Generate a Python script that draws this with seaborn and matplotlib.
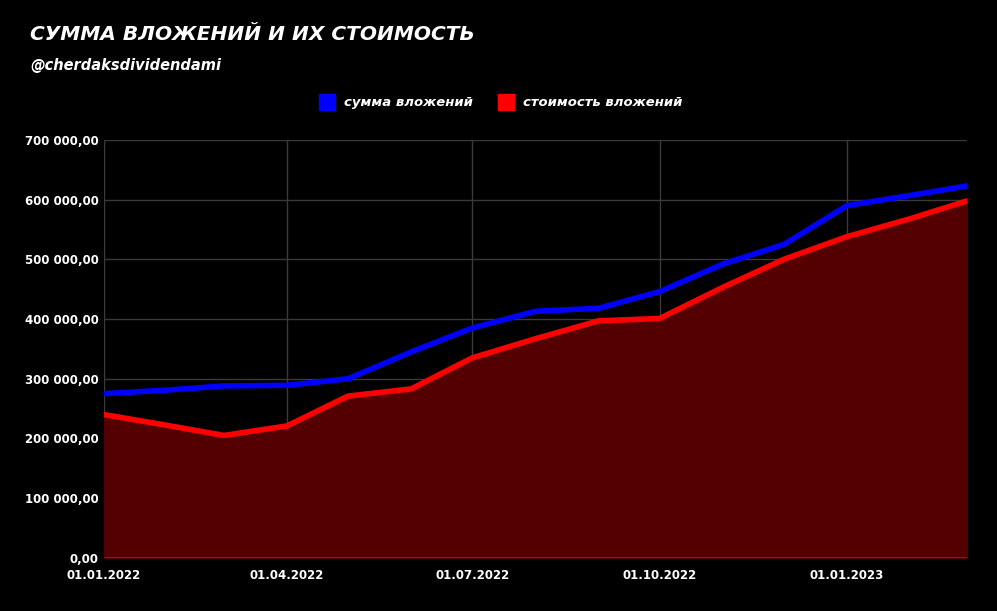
import pandas as pd
import matplotlib
matplotlib.use('Agg')
import matplotlib.pyplot as plt
import matplotlib.dates as mdates
import matplotlib.ticker as mticker
import seaborn as sns

dates = pd.date_range('2022-01-01', '2023-03-01', freq='MS')
invested = [275, 281, 288, 289, 300, 345, 385, 413, 418, 446, 492, 525, 590, 607, 623]
value = [240, 222, 205, 221, 271, 283, 335, 367, 397, 401, 453, 500, 538, 568, 598]
invested = [v * 1000 for v in invested]
value = [v * 1000 for v in value]

df = pd.DataFrame({'date': dates, 'сумма вложений': invested, 'стоимость вложений': value})

sns.set_style('dark')
fig, ax = plt.subplots(figsize=(9.97, 6.11), dpi=100)
fig.patch.set_facecolor('black')
ax.set_facecolor('black')

ax.fill_between(df['date'], df['стоимость вложений'], color='#550000', zorder=1)
sns.lineplot(data=df, x='date', y='сумма вложений', color='#0000ff', lw=4, ax=ax, zorder=3)
sns.lineplot(data=df, x='date', y='стоимость вложений', color='#ff0000', lw=4, ax=ax, zorder=3)

ax.set_xlim(dates[0], dates[-1])
ax.set_ylim(0, 700000)
ax.yaxis.set_major_locator(mticker.MultipleLocator(100000))
ax.yaxis.set_major_formatter(mticker.FuncFormatter(lambda v, p: f'{v:,.2f}'.replace(',', ' ').replace('.', ',')))
ax.set_xticks(pd.to_datetime(['2022-01-01', '2022-04-01', '2022-07-01', '2022-10-01', '2023-01-01']))
ax.xaxis.set_major_formatter(mdates.DateFormatter('%d.%m.%Y'))
ax.grid(True, color='#3a3a3a', lw=1, zorder=2)
for s in ax.spines.values():
    s.set_visible(False)
ax.axhline(0, color='#cccccc', lw=1, zorder=4)
ax.tick_params(colors='white', labelsize=8.5, length=0)
ax.tick_params(axis='x', pad=8)
for lbl in ax.get_xticklabels() + ax.get_yticklabels():
    lbl.set_fontweight('bold')
ax.set_xlabel('')
ax.set_ylabel('')

from matplotlib.lines import Line2D
handles = [Line2D([], [], marker='s', ls='', color='#0000ff', markersize=11),
           Line2D([], [], marker='s', ls='', color='#ff0000', markersize=11)]
fig.legend(handles, ['сумма вложений', 'стоимость вложений'], loc='center', bbox_to_anchor=(0.5, 0.832),
           ncol=2, frameon=False, labelcolor='white', handletextpad=0.3, columnspacing=1.5,
           prop={'style': 'italic', 'weight': 'bold', 'size': 9.5})

fig.text(0.03, 0.935, 'СУММА ВЛОЖЕНИЙ И ИХ СТОИМОСТЬ', color='white', fontsize=14.5,
         fontweight='bold', style='italic')
fig.text(0.03, 0.885, '@cherdaksdividendami', color='white', fontsize=10.5,
         fontweight='bold', style='italic')

fig.subplots_adjust(left=0.104, right=0.97, top=0.771, bottom=0.087)
fig.savefig('out.png', dpi=100, facecolor='black')
